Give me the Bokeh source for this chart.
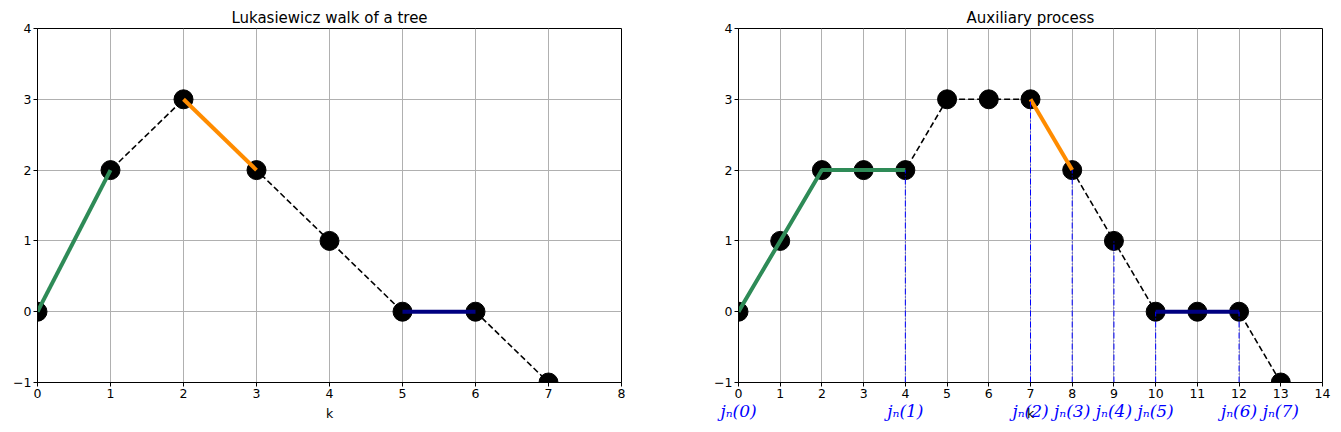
from bokeh.plotting import figure
from bokeh.layouts import row
from bokeh.models import FixedTicker, Range1d, LinearAxis
from bokeh.embed import file_html
from bokeh.resources import INLINE

# ---- data ----
walk_k = [0, 1, 2, 3, 4, 5, 6, 7]
walk_y = [0, 2, 3, 2, 1, 0, 0, -1]
left_green = [0, 1]
left_orange = [2, 3]
left_navy = [5, 6]

aux_k = [0, 1, 2, 3, 4, 5, 6, 7, 8, 9, 10, 11, 12, 13]
aux_y = [0, 1, 2, 2, 2, 3, 3, 3, 2, 1, 0, 0, 0, -1]
right_green = [0, 1, 2, 3, 4]
right_orange = [7, 8]
right_navy = [10, 11, 12]

jn_pos = [0, 4, 7, 8, 9, 10, 12, 13]
jn_labels = ["jₙ(0)", "jₙ(1)", "jₙ(2)", "jₙ(3)", "jₙ(4)", "jₙ(5)", "jₙ(6)", "jₙ(7)"]

y_ticks = [-1, 0, 1, 2, 3, 4]
FONT = "DejaVu Sans"


def style_axis(ax):
    ax.major_label_text_font = FONT
    ax.major_label_text_font_size = "12.5px"
    ax.axis_label_text_font = FONT
    ax.axis_label_text_font_size = "12.5px"
    ax.axis_label_text_font_style = "normal"
    ax.axis_label_text_color = "black"
    ax.minor_tick_line_color = None
    ax.major_tick_in = 0
    ax.major_tick_out = 4
    ax.major_tick_line_color = "black"
    ax.axis_line_color = "black"
    ax.major_label_standoff = 2
    ax.axis_label_standoff = 5
    ax.major_label_text_color = "black"


def make_fig(title, xs, ys, xmax, segs, width, bl, br, xlabel=True):
    p = figure(width=width, height=424, output_backend="svg", toolbar_location=None,
               x_range=Range1d(0, xmax), y_range=Range1d(-1, 4),
               min_border_left=bl, min_border_right=br, min_border_top=28,
               min_border_bottom=42)
    p.title.text = title
    p.title.align = "center"
    p.title.text_font = FONT
    p.title.text_font_size = "15px"
    p.title.text_font_style = "normal"
    p.title.text_color = "black"
    p.title.standoff = 3
    p.title.offset = 0
    p.xaxis.ticker = FixedTicker(ticks=list(range(0, xmax + 1)))
    p.yaxis.ticker = FixedTicker(ticks=y_ticks)
    p.yaxis.major_label_overrides = {-1: "−1"}
    if xlabel:
        p.xaxis.axis_label = "k"
    style_axis(p.xaxis[0])
    style_axis(p.yaxis[0])
    p.grid.grid_line_color = "#b0b0b0"
    p.grid.grid_line_width = 1
    p.outline_line_color = "black"
    p.outline_line_alpha = 1
    p.line(xs, ys, line_color="black", line_dash="6 3", line_width=1.6)
    p.scatter(xs, ys, size=19, fill_color="black", line_color="black")
    for idx, col in segs:
        p.line([xs[i] for i in idx], [ys[i] for i in idx], line_color=col, line_width=4)
    return p


p1 = make_fig("Lukasiewicz walk of a tree", walk_k, walk_y, 8,
              [(left_green, "#2e8b57"), (left_orange, "#ff8c00"), (left_navy, "#000080")],
              680, 37, 59)
p2 = make_fig("Auxiliary process", aux_k, aux_y, 14,
              [(right_green, "#2e8b57"), (right_orange, "#ff8c00"), (right_navy, "#000080")],
              653, 58, 11, xlabel=False)

jn_top = [aux_y[j] for j in jn_pos]
p2.segment(x0=jn_pos, y0=[-1] * len(jn_pos), x1=jn_pos, y1=jn_top,
           line_color="blue", line_width=1, line_dash="6 2 1 2")

jn_axis = LinearAxis(ticker=FixedTicker(ticks=jn_pos),
                     major_label_overrides={j: t for j, t in zip(jn_pos, jn_labels)})
jn_axis.axis_line_color = None
jn_axis.major_tick_line_color = None
jn_axis.minor_tick_line_color = None
jn_axis.major_tick_in = 0
jn_axis.major_tick_out = 0
jn_axis.major_label_standoff = 0
jn_axis.major_label_text_color = "blue"
jn_axis.major_label_text_font = "DejaVu Serif"
jn_axis.major_label_text_font_style = "italic"
jn_axis.major_label_text_font_size = "17px"
jn_axis.axis_label = "k"
jn_axis.axis_label_text_font = FONT
jn_axis.axis_label_text_font_size = "12.5px"
jn_axis.axis_label_text_font_style = "normal"
jn_axis.axis_label_text_color = "black"
jn_axis.axis_label_standoff = -18
p2.add_layout(jn_axis, "below")

layout = row(p1, p2)
open("out.html", "w").write(file_html(layout, INLINE))
